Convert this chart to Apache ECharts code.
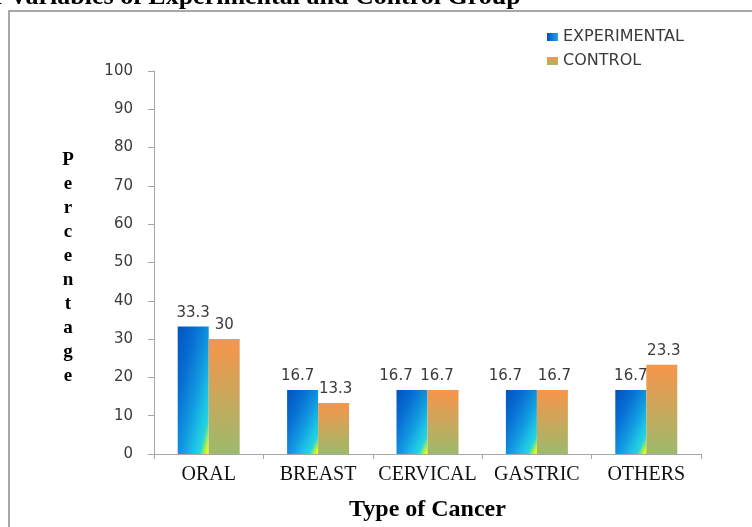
<!DOCTYPE html>
<html>
<head>
<meta charset="utf-8">
<script src="https://cdn.jsdelivr.net/npm/echarts@6/dist/echarts.min.js"></script>
<style>
  html, body { margin: 0; padding: 0; background: #ffffff; }
  #chart { width: 752px; height: 527px; }
</style>
</head>
<body>
<div id="chart"></div>
<script>
// Cancer type distribution (%) for the two study groups
const categories = ['ORAL', 'BREAST', 'CERVICAL', 'GASTRIC', 'OTHERS'];
const experimental = [33.3, 16.7, 16.7, 16.7, 16.7];
const control = [30, 13.3, 16.7, 16.7, 23.3];
const seriesNames = ['EXPERIMENTAL', 'CONTROL'];
const yTickValues = [0, 10, 20, 30, 40, 50, 60, 70, 80, 90, 100];
const titleText = 'of Variables of Experimental and Control Group';
const yTitle = 'Percentage';
const xTitle = 'Type of Cancer';

// Horizontal nudges (px) that keep neighbouring value labels apart
const expLabelShift = [0, -5, -16, -16, 0];
const ctlLabelShift = [0, 2, -6, 2, 2];

const SANS = '"DejaVu Sans", Verdana, sans-serif';
const SERIF = '"Liberation Serif", "Times New Roman", serif';
const BAR_W = 31;

// Diagonal fill for the experimental bars: dark blue at the top-left corner,
// cyan towards the bottom-right, ending in a small yellow spot.
const expStops = [
  { offset: 0.00, color: '#0052c0' },
  { offset: 0.30, color: '#0870d4' },
  { offset: 0.55, color: '#1198e0' },
  { offset: 0.74, color: '#1cc2e4' },
  { offset: 0.85, color: '#28d4dc' },
  { offset: 0.91, color: '#8ee872' },
  { offset: 0.96, color: '#e6f41e' },
  { offset: 1.00, color: '#f4f514' }
];
const ctlGradient = {
  type: 'linear', x: 0, y: 0, x2: 0, y2: 1,
  colorStops: [
    { offset: 0, color: '#f7954a' },
    { offset: 1, color: '#9cba6c' }
  ]
};
const expLegendGradient = {
  type: 'linear', x: 0, y: 0, x2: 1, y2: 0,
  colorStops: [
    { offset: 0, color: '#0052c4' },
    { offset: 1, color: '#2a9ee8' }
  ]
};

// Gradient whose colour bands run parallel to the bar's bottom-left -> top-right
// diagonal, scaled to the bar's own pixel size.
function diagGradient(w, h) {
  const s = 2 * w * h / (w * w + h * h);
  return {
    type: 'linear', x: 0, y: 0, x2: s * h / w, y2: s * w / h,
    colorStops: expStops
  };
}

const chart = echarts.init(document.getElementById('chart'), null, { renderer: 'canvas' });

const labelStyle = {
  show: true,
  position: 'top',
  distance: 6,
  color: '#3a3a3a',
  fontFamily: SANS,
  fontSize: 15
};

const option = {
  animation: false,
  backgroundColor: '#ffffff',
  grid: { left: 154, right: 51, top: 71, bottom: 70, containLabel: false },
  legend: {
    orient: 'vertical',
    left: 547,
    top: 29,
    itemWidth: 11,
    itemHeight: 8,
    itemGap: 8,
    padding: 0,
    icon: 'rect',
    data: seriesNames,
    textStyle: { fontFamily: SANS, fontSize: 16, color: '#3a3a3a' }
  },
  xAxis: {
    type: 'category',
    data: categories,
    axisLine: { lineStyle: { color: '#a6a6a6', width: 1 } },
    axisTick: { show: true, length: 5, lineStyle: { color: '#a6a6a6' } },
    axisLabel: { interval: 0, margin: 11, fontFamily: SERIF, fontSize: 20, color: '#111111' },
    name: xTitle,
    nameLocation: 'middle',
    nameGap: 44,
    nameTextStyle: { fontFamily: SERIF, fontSize: 24, fontWeight: 'bold', color: '#000000' }
  },
  yAxis: {
    type: 'value',
    min: yTickValues[0],
    max: yTickValues[yTickValues.length - 1],
    interval: yTickValues[1] - yTickValues[0],
    splitLine: { show: false },
    axisLine: { show: true, lineStyle: { color: '#a6a6a6', width: 1 } },
    axisTick: { show: true, length: 6, lineStyle: { color: '#a6a6a6' } },
    axisLabel: { margin: 21, fontFamily: SANS, fontSize: 15, color: '#3a3a3a' }
  },
  graphic: [
    {
      type: 'rect',
      silent: true,
      shape: { x: 9, y: 11, width: 900, height: 700 },
      style: { fill: 'none', stroke: '#8c8c8c', lineWidth: 1.5 }
    },
    {
      type: 'text',
      silent: true,
      x: -19, y: 10,
      style: {
        text: titleText,
        fontFamily: SERIF, fontSize: 26, fontWeight: 'bold',
        fill: '#000000', align: 'left', verticalAlign: 'bottom'
      }
    },
    {
      type: 'text',
      silent: true,
      x: 68, y: 268,
      style: {
        text: yTitle.split('').join('\n'),
        fontFamily: SERIF, fontSize: 19, fontWeight: 'bold',
        lineHeight: 24,
        fill: '#000000', align: 'center', verticalAlign: 'middle'
      }
    }
  ],
  series: [
    {
      name: seriesNames[0],
      type: 'bar',
      barWidth: BAR_W,
      barGap: '0%',
      data: experimental.map(function (v, i) {
        return { value: v, label: { offset: [expLabelShift[i], 0] } };
      }),
      itemStyle: { color: expLegendGradient },
      label: labelStyle
    },
    {
      name: seriesNames[1],
      type: 'bar',
      barWidth: BAR_W,
      barGap: '0%',
      data: control.map(function (v, i) {
        return { value: v, label: { offset: [ctlLabelShift[i], 0] } };
      }),
      itemStyle: { color: ctlGradient },
      label: labelStyle
    }
  ]
};

chart.setOption(option);

// Give every experimental bar a diagonal fill sized to its own pixel height.
const zeroY = chart.convertToPixel({ yAxisIndex: 0 }, 0);
const expData = experimental.map(function (v, i) {
  const h = Math.max(1, zeroY - chart.convertToPixel({ yAxisIndex: 0 }, v));
  return {
    value: v,
    itemStyle: { color: diagGradient(BAR_W, h) },
    label: { offset: [expLabelShift[i], 0] }
  };
});
chart.setOption({ series: [{ name: seriesNames[0], data: expData }] });
</script>
</body>
</html>
